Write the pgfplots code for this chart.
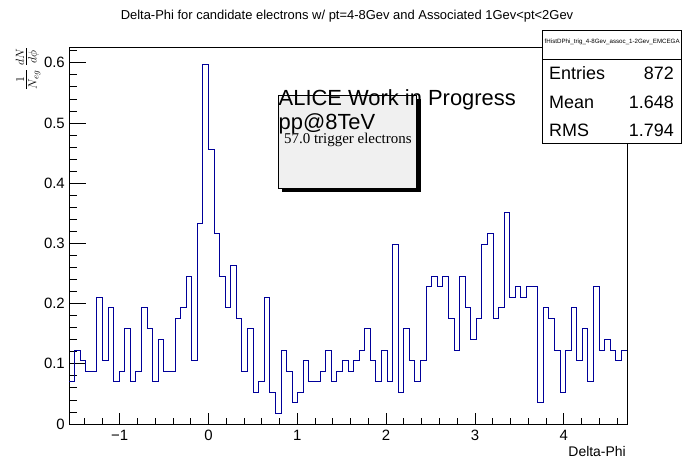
\documentclass[border=0pt]{standalone}
\usepackage{fontspec}
\setmainfont{Liberation Sans}
\newfontfamily\serifrm{Liberation Serif}
\usepackage{pgfplots}
\pgfplotsset{compat=1.18}
\definecolor{histblue}{RGB}{0,0,153}
\definecolor{boxgrey}{RGB}{240,240,240}
\begin{document}
\begin{tikzpicture}[x=1bp,y=1bp]
\path[use as bounding box] (0,0) rectangle (696,472);
\begin{axis}[
  at={(69bp,48bp)}, anchor=south west,
  width=558bp, height=377bp, scale only axis,
  xmin=-1.570796, xmax=4.712389, ymin=0, ymax=0.6263,
  axis line style={line width=0.8bp},
  tick style={line width=0.8bp, black},
  tick align=inside,
  xtick pos=bottom, ytick pos=left,
  major tick length=11.3bp, minor tick length=5.6bp,
  ytick style={/pgfplots/major tick length=16.7bp,/pgfplots/minor tick length=8.3bp},
  xtick={-1,0,1,2,3,4},
  xticklabels={−1,0,1,2,3,4},
  minor xtick={-1.4,-1.2,-0.8,-0.6,-0.4,-0.2,0.2,0.4,0.6,0.8,1.2,1.4,1.6,1.8,2.2,2.4,2.6,2.8,3.2,3.4,3.6,3.8,4.2,4.4,4.6},
  ytick={0,0.1,0.2,0.3,0.4,0.5,0.6},
  yticklabels={0,0.1,0.2,0.3,0.4,0.5,0.6},
  minor ytick={0.02,0.04,0.06,0.08,0.12,0.14,0.16,0.18,0.22,0.24,0.26,0.28,0.32,0.34,0.36,0.38,0.42,0.44,0.46,0.48,0.52,0.54,0.56,0.58,0.62},
  xticklabel style={font=\fontsize{15}{15}\selectfont, inner sep=0pt, yshift=-6bp},
  yticklabel style={font=\fontsize{15}{15}\selectfont, inner sep=0pt, xshift=-4bp},
  clip=false,
]
\addplot[const plot, histblue, line width=1bp] coordinates {
(-1.5708,0.070175) (-1.5080,0.122807) (-1.4451,0.105263) (-1.3823,0.087719)
(-1.3195,0.087719) (-1.2566,0.210526) (-1.1938,0.105263) (-1.1310,0.192982)
(-1.0681,0.070175) (-1.0053,0.087719) (-0.9425,0.157895) (-0.8796,0.070175)
(-0.8168,0.087719) (-0.7540,0.192982) (-0.6912,0.157895) (-0.6283,0.070175)
(-0.5655,0.140351) (-0.5027,0.087719) (-0.4398,0.087719) (-0.3770,0.175439)
(-0.3142,0.192982) (-0.2513,0.245614) (-0.1885,0.105263) (-0.1257,0.333333)
(-0.0628,0.596491) (0.0000,0.456140) (0.0628,0.315789) (0.1257,0.245614)
(0.1885,0.192982) (0.2513,0.263158) (0.3142,0.175439) (0.3770,0.087719)
(0.4398,0.157895) (0.5027,0.052632) (0.5655,0.070175) (0.6283,0.210526)
(0.6912,0.052632) (0.7540,0.017544) (0.8168,0.122807) (0.8796,0.087719)
(0.9425,0.035088) (1.0053,0.052632) (1.0681,0.105263) (1.1310,0.070175)
(1.1938,0.070175) (1.2566,0.087719) (1.3195,0.122807) (1.3823,0.070175)
(1.4451,0.087719) (1.5080,0.105263) (1.5708,0.087719) (1.6336,0.105263)
(1.6965,0.122807) (1.7593,0.157895) (1.8221,0.105263) (1.8850,0.070175)
(1.9478,0.122807) (2.0106,0.070175) (2.0735,0.298246) (2.1363,0.052632)
(2.1991,0.157895) (2.2619,0.105263) (2.3248,0.070175) (2.3876,0.105263)
(2.4504,0.228070) (2.5133,0.245614) (2.5761,0.228070) (2.6389,0.245614)
(2.7018,0.175439) (2.7646,0.122807) (2.8274,0.245614) (2.8903,0.192982)
(2.9531,0.140351) (3.0159,0.175439) (3.0788,0.298246) (3.1416,0.315789)
(3.2044,0.175439) (3.2673,0.192982) (3.3301,0.350877) (3.3929,0.210526)
(3.4558,0.228070) (3.5186,0.210526) (3.5814,0.228070) (3.6442,0.228070)
(3.7071,0.035088) (3.7699,0.192982) (3.8327,0.175439) (3.8956,0.122807)
(3.9584,0.052632) (4.0212,0.122807) (4.0841,0.192982) (4.1469,0.105263)
(4.2097,0.157895) (4.2726,0.070175) (4.3354,0.228070) (4.3982,0.122807)
(4.4611,0.140351) (4.5239,0.122807) (4.5867,0.105263) (4.6496,0.122807)
(4.7124,0.122807)
};
\end{axis}
% title
\node[anchor=base, inner sep=0pt, font=\fontsize{13}{15}\selectfont] at (347,452.7)
  {Delta-Phi for candidate electrons w/ pt=4-8Gev and Associated 1Gev<pt<2Gev};
% x label
\node[anchor=base east, inner sep=0pt, font=\fontsize{14}{16}\selectfont] at (626,15.3) {Delta-Phi};
% y label
\node[rotate=90, anchor=east, inner sep=0pt, font=\fontsize{18}{20}\selectfont] at (28,425)
  {$\textstyle\frac{1}{N_{eg}}\,\frac{dN}{d\phi}$};
% ALICE box
\fill[black] (282.3,373) rectangle (420.7,279.7);
\filldraw[fill=boxgrey, draw=black, line width=0.8bp] (278.3,377) rectangle (416.7,283.7);
\node[anchor=base west, inner sep=0pt, font=\fontsize{22}{24}\selectfont] at (278.5,366.3) {ALICE Work in Progress};
\node[anchor=base west, inner sep=0pt, font=\fontsize{22}{24}\selectfont] at (278.5,342.7) {pp@8TeV};
\node[anchor=base west, inner sep=0pt, font=\serifrm\fontsize{15}{16}\selectfont] at (284,328) {57.0 trigger electrons};
% stat box
\filldraw[fill=white, draw=black, line width=0.8bp] (542.7,442) rectangle (681.7,328.7);
\draw[line width=0.8bp] (542.7,412.7) -- (681.7,412.7);
\node[anchor=center, inner sep=0pt, font=\fontsize{6.2}{7}\selectfont] at (612.2,430.3) {fHistDPhi\_trig\_4-8Gev\_assoc\_1-2Gev\_EMCEGA};
\node[anchor=base west, inner sep=0pt, font=\fontsize{18}{19}\selectfont] at (549,392) {Entries};
\node[anchor=base east, inner sep=0pt, font=\fontsize{18}{19}\selectfont] at (674,392) {872};
\node[anchor=base west, inner sep=0pt, font=\fontsize{18}{19}\selectfont] at (549,363.7) {Mean};
\node[anchor=base east, inner sep=0pt, font=\fontsize{18}{19}\selectfont] at (674,363.7) {1.648};
\node[anchor=base west, inner sep=0pt, font=\fontsize{18}{19}\selectfont] at (549,335.3) {RMS};
\node[anchor=base east, inner sep=0pt, font=\fontsize{18}{19}\selectfont] at (674,335.3) {1.794};
\end{tikzpicture}
\end{document}
